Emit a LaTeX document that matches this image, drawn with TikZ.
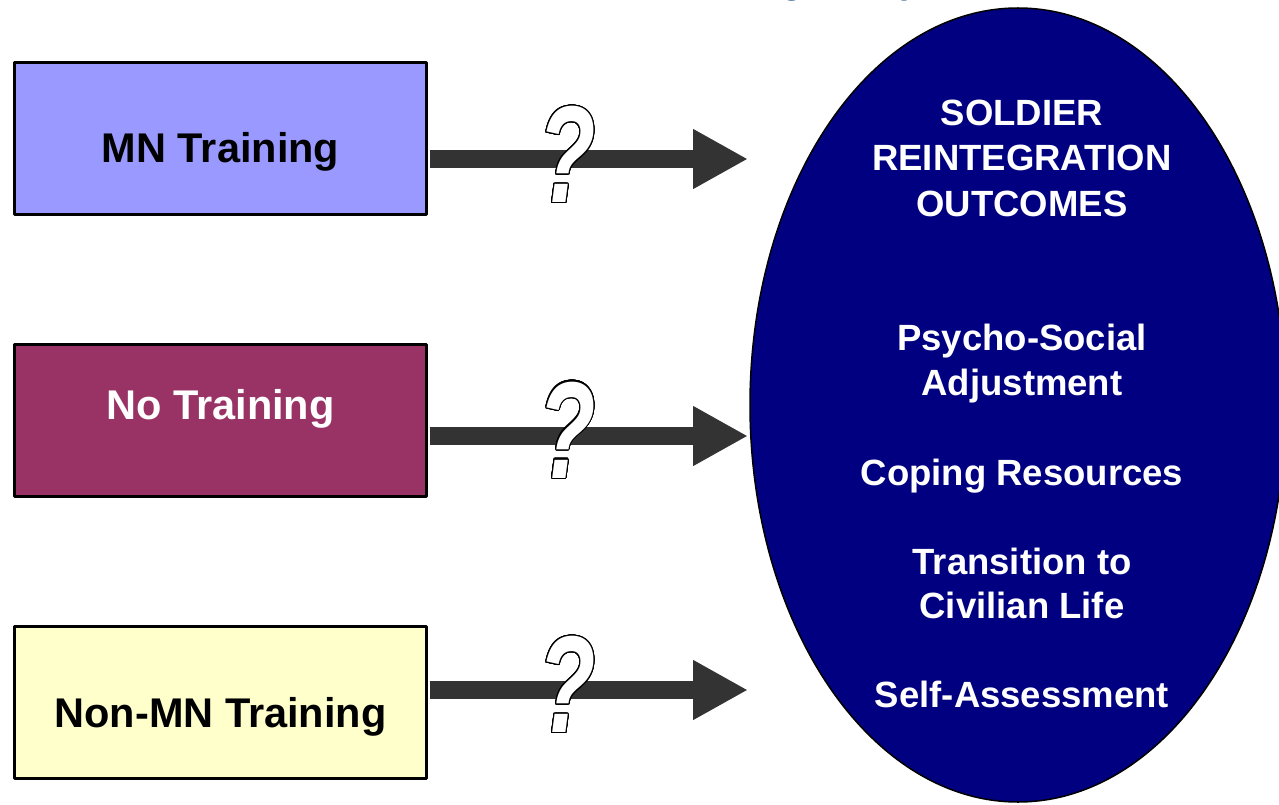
\documentclass[tikz,border=0pt]{standalone}
\usepackage{fontspec}
\setmainfont{Liberation Sans}
\usepackage[copies]{contour}
\usetikzlibrary{arrows.meta,shapes.geometric}
\definecolor{mnblue}{HTML}{9999FF}
\definecolor{nored}{HTML}{993366}
\definecolor{nonyellow}{HTML}{FFFFCC}
\definecolor{outnavy}{HTML}{000080}
\definecolor{arrowgray}{HTML}{333333}
\definecolor{titleblue}{HTML}{0B3C78}
\contourlength{1.3pt}
\contournumber{32}
\begin{document}
\begin{tikzpicture}[x=1pt,y=-1pt,line join=round,font=\bfseries]
\tikzset{box/.style={draw,line width=3pt,minimum width=412pt,minimum height=152pt,inner sep=0pt},
  boxtext/.style={anchor=base,inner sep=0pt,font=\fontsize{41.5}{48}\selectfont\bfseries},
  outtext/.style={anchor=base,inner sep=0pt,text=white,font=\fontsize{36.5}{44}\selectfont\bfseries},
  bigarrow/.style={line width=18pt,draw=arrowgray,-{Triangle[length=55pt,width=56pt]},shorten <=1.5pt},
  qmark/.style={inner sep=0pt,xscale=0.68,font=\fontsize{138}{140}\selectfont\bfseries\itshape}}
\useasboundingbox (0,0) rectangle (1279,805);
% title line, only its descenders fall inside the page
\node[anchor=base west,inner sep=0pt,text=titleblue,font=\fontsize{36}{40}\selectfont\bfseries] (title) at (663,-6) {Training Groups};
% the three groups
\node[box,fill=mnblue] (mn) at (220.5,138.5) {};
\node[box,fill=nored] (no) at (220.5,420) {};
\node[box,fill=nonyellow] (non) at (220.5,702) {};
\node[boxtext] (mnlabel) at (220.5,163) {MN Training};
\node[boxtext,text=white] (nolabel) at (220.5,419) {No Training};
\node[boxtext] (nonlabel) at (220.5,727) {Non-MN Training};
% outcomes
\node[ellipse,draw,line width=1.5pt,fill=outnavy,minimum width=536pt,minimum height=794pt,inner sep=0pt] (outcomes) at (1018,405) {};
\foreach \txt/\yy [count=\i] in {SOLDIER/126,REINTEGRATION/171,OUTCOMES/216,Psycho-Social/350,Adjustment/395,Coping Resources/485,Transition to/574,Civilian Life/618,Self-Assessment/707}
  \node[outtext] (line\i) at (1022,\yy) {\txt};
% arrows with their question marks
\coordinate (tip1) at (748,159);
\coordinate (tip2) at (748,436);
\coordinate (tip3) at (748,690);
\draw[bigarrow] (mn.east |- tip1) -- (tip1);
\draw[bigarrow] (no.east |- tip2) -- (tip2);
\draw[bigarrow] (non.east |- tip3) -- (tip3);
\node[qmark] (q1) at (567,155) {\contour{black}{\textcolor{white}{?}}};
\node[qmark] (q2) at (567,430.5) {\contour{black}{\textcolor{white}{?}}};
\node[qmark] (q3) at (567,685) {\contour{black}{\textcolor{white}{?}}};
\end{tikzpicture}
\end{document}
